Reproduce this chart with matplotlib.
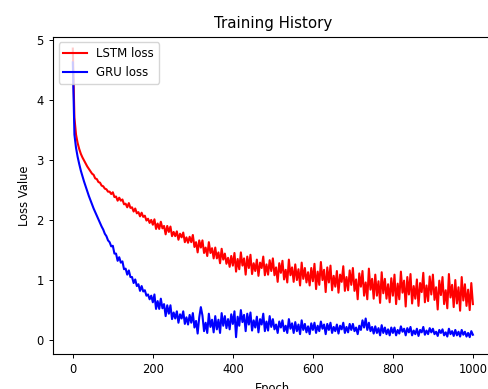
import numpy as np
import matplotlib
matplotlib.use("Agg")
import matplotlib.pyplot as plt

# epochs sampled every 4 steps (0..1000)
epochs = np.arange(0, 1001, 4)

# LSTM loss values
lstm_loss = [
    4.85, 3.70, 3.42, 3.28, 3.18, 3.10, 3.04, 2.99, 2.94, 2.89, 2.85, 2.81, 2.77,
    2.75, 2.69, 2.68, 2.63, 2.62, 2.57, 2.56, 2.52, 2.51, 2.47, 2.47, 2.43,
    2.46, 2.38, 2.39, 2.32, 2.37, 2.32, 2.34, 2.26, 2.27, 2.21, 2.28, 2.20, 2.21,
    2.14, 2.19, 2.11, 2.13, 2.06, 2.12, 2.05, 2.07, 1.99, 2.02, 1.95, 2.00,
    1.92, 2.01, 1.85, 1.94, 1.85, 1.97, 1.86, 1.90, 1.76, 1.90, 1.80, 1.89, 1.73,
    1.80, 1.73, 1.81, 1.67, 1.77, 1.71, 1.79, 1.63, 1.71, 1.62, 1.72, 1.63,
    1.75, 1.55, 1.63, 1.46, 1.66, 1.54, 1.66, 1.45, 1.54, 1.40, 1.63, 1.45, 1.53,
    1.36, 1.54, 1.36, 1.46, 1.28, 1.52, 1.34, 1.44, 1.27, 1.37, 1.22, 1.40,
    1.24, 1.45, 1.14, 1.35, 1.18, 1.46, 1.24, 1.36, 1.09, 1.39, 1.20, 1.42, 1.10,
    1.28, 1.15, 1.34, 1.07, 1.29, 1.20, 1.39, 1.08, 1.26, 1.09, 1.33, 1.15,
    1.36, 1.08, 1.21, 0.97, 1.28, 1.12, 1.32, 1.01, 1.17, 0.96, 1.34, 1.08, 1.21,
    0.97, 1.26, 1.00, 1.18, 0.91, 1.29, 1.02, 1.20, 0.96, 1.13, 0.91, 1.20,
    0.98, 1.27, 0.85, 1.14, 0.92, 1.30, 1.00, 1.17, 0.80, 1.21, 0.96, 1.24, 0.83,
    1.07, 0.89, 1.15, 0.79, 1.09, 0.97, 1.23, 0.82, 1.05, 0.83, 1.16, 0.92,
    1.20, 0.82, 1.01, 0.68, 1.11, 0.89, 1.15, 0.74, 0.96, 0.68, 1.19, 0.84, 1.02,
    0.69, 1.09, 0.74, 0.98, 0.62, 1.13, 0.78, 1.02, 0.69, 0.93, 0.63, 1.03,
    0.74, 1.09, 0.60, 0.94, 0.68, 1.14, 0.79, 0.99, 0.56, 1.05, 0.76, 1.10, 0.61,
    0.90, 0.69, 1.01, 0.57, 0.95, 0.80, 1.12, 0.63, 0.91, 0.65, 1.06, 0.76,
    1.09, 0.67, 0.88, 0.51, 0.99, 0.75, 1.05, 0.60, 0.83, 0.53, 1.10, 0.71, 0.92,
    0.55, 1.00, 0.61, 0.88, 0.49, 1.05, 0.66, 0.93, 0.57, 0.84, 0.50, 0.95,
    0.60,
]

# GRU loss values
gru_loss = [
    4.62, 3.42, 3.20, 3.05, 2.93, 2.82, 2.73, 2.64, 2.56, 2.48, 2.40, 2.33, 2.26,
    2.19, 2.13, 2.07, 2.01, 1.95, 1.89, 1.84, 1.77, 1.73, 1.66, 1.63, 1.56,
    1.57, 1.44, 1.44, 1.32, 1.38, 1.29, 1.31, 1.18, 1.19, 1.09, 1.16, 1.05, 1.05,
    0.95, 1.01, 0.90, 0.93, 0.82, 0.90, 0.81, 0.83, 0.74, 0.76, 0.68, 0.74,
    0.63, 0.76, 0.52, 0.65, 0.52, 0.69, 0.53, 0.60, 0.40, 0.58, 0.44, 0.58, 0.35,
    0.46, 0.36, 0.48, 0.29, 0.43, 0.36, 0.48, 0.27, 0.38, 0.26, 0.42, 0.29,
    0.45, 0.21, 0.32, 0.11, 0.38, 0.55, 0.41, 0.15, 0.29, 0.12, 0.44, 0.22, 0.34,
    0.13, 0.40, 0.18, 0.34, 0.12, 0.45, 0.24, 0.40, 0.20, 0.35, 0.18, 0.43,
    0.27, 0.48, 0.05, 0.39, 0.24, 0.50, 0.30, 0.42, 0.15, 0.44, 0.26, 0.46, 0.16,
    0.33, 0.21, 0.39, 0.13, 0.35, 0.26, 0.44, 0.15, 0.31, 0.16, 0.40, 0.22,
    0.35, 0.18, 0.26, 0.12, 0.31, 0.21, 0.33, 0.15, 0.24, 0.12, 0.35, 0.19, 0.28,
    0.12, 0.30, 0.15, 0.26, 0.10, 0.33, 0.17, 0.27, 0.13, 0.23, 0.10, 0.28,
    0.17, 0.29, 0.12, 0.24, 0.15, 0.31, 0.19, 0.26, 0.10, 0.27, 0.17, 0.29, 0.12,
    0.22, 0.15, 0.26, 0.11, 0.24, 0.18, 0.29, 0.12, 0.22, 0.13, 0.27, 0.17,
    0.27, 0.15, 0.21, 0.10, 0.24, 0.17, 0.33, 0.21, 0.36, 0.17, 0.29, 0.15, 0.22,
    0.11, 0.23, 0.12, 0.20, 0.08, 0.25, 0.12, 0.21, 0.10, 0.18, 0.08, 0.21,
    0.12, 0.21, 0.08, 0.17, 0.11, 0.23, 0.14, 0.19, 0.08, 0.20, 0.13, 0.22, 0.08,
    0.16, 0.10, 0.19, 0.07, 0.17, 0.13, 0.22, 0.09, 0.16, 0.10, 0.20, 0.13,
    0.19, 0.10, 0.14, 0.07, 0.17, 0.12, 0.18, 0.08, 0.13, 0.06, 0.19, 0.10, 0.15,
    0.07, 0.17, 0.08, 0.14, 0.06, 0.17, 0.09, 0.14, 0.06, 0.12, 0.05, 0.15,
    0.09,
]

fig = plt.figure(figsize=(4.89, 3.89), dpi=100)
ax = fig.add_axes([0.108, 0.09, 0.90, 0.816])

ax.plot(epochs, lstm_loss, color='red', linewidth=1.5, label='LSTM loss')
ax.plot(epochs, gru_loss, color='blue', linewidth=1.5, label='GRU loss')

ax.set_xlim(-50, 1050)
ax.set_ylim(-0.23, 5.05)
ax.set_xticks([0, 200, 400, 600, 800, 1000])
ax.set_yticks([0, 1, 2, 3, 4, 5])
ax.tick_params(labelsize=8.3, length=3, width=0.7)
for s in ax.spines.values():
    s.set_linewidth(0.8)

ax.set_title('Training History', fontsize=10.8)
ax.set_xlabel('Epoch', fontsize=8.3)
ax.set_ylabel('Loss Value', fontsize=8.3)
ax.legend(loc='upper left', fontsize=8.5)

fig.savefig('out.png', dpi=100)
